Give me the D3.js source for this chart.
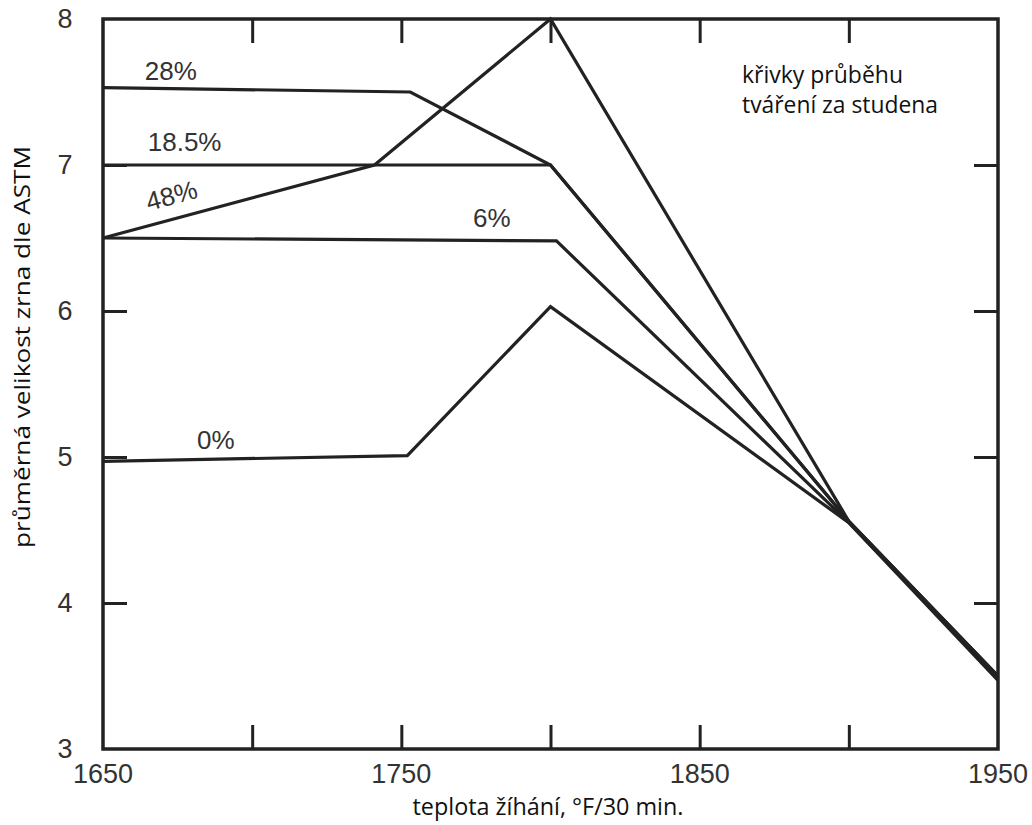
<!DOCTYPE html>
<html><head><meta charset="utf-8">
<script src="https://cdn.jsdelivr.net/npm/d3@7"></script>
<style>body{margin:0;background:#fff}svg{display:block}</style>
</head><body>
<svg id="c" width="1032" height="825"></svg>
<script>
// ---- data ----
const xTicks = [1650, 1750, 1850, 1950];
const xMinorTicks = [1700, 1750, 1800, 1850, 1900];
const yTicks = [3, 4, 5, 6, 7, 8];
const curveNames = ["0%", "6%", "18.5%", "28%", "48%"];
const temps0 = [1650, 1752, 1800, 1900, 1950];
const grain0 = [4.97, 5.01, 6.03, 4.55, 3.47];
const temps6 = [1650, 1802, 1900, 1950];
const grain6 = [6.5, 6.48, 4.55, 3.49];
const temps185 = [1650, 1800, 1900, 1950];
const grain185 = [7.0, 7.0, 4.56, 3.5];
const temps28 = [1650, 1753, 1800, 1900, 1950];
const grain28 = [7.53, 7.5, 7.0, 4.56, 3.5];
const temps48 = [1650, 1741, 1800, 1900, 1950];
const grain48 = [6.5, 7.0, 8.0, 4.56, 3.5];
// label anchors (data units)
const labelTemps = [1681.5, 1774, 1665, 1664, 1673];
const labelGrain = [5.055, 6.575, 7.096, 7.58, 6.79];
const labelAngle = [0, 0, 0, 0, -15];
const xTitle = "teplota žíhání, °F/30 min.";
const yTitle = "průměrná velikost zrna dle ASTM";
const note = ["křivky průběhu", "tváření za studena"];

// ---- chart ----
const svg = d3.select("#c");
const L = 103, R = 998, T = 19, B = 749;
const x = d3.scaleLinear().domain([1650, 1950]).range([L, R]);
const y = d3.scaleLinear().domain([3, 8]).range([B, T]);
const ink = "#222";
const txt = "#333";
const numFont = "Liberation Sans, Arial, sans-serif";
const titleFont = "Open Sans, sans-serif";

const series = [
  [temps0, grain0], [temps6, grain6], [temps185, grain185], [temps28, grain28], [temps48, grain48]
];
const line = d3.line().x(d => x(d[0])).y(d => y(d[1]));
series.forEach(([t, g]) => {
  svg.append("path").datum(t.map((v, i) => [v, g[i]]))
    .attr("d", line).attr("fill", "none").attr("stroke", ink)
    .attr("stroke-width", 3.2).attr("stroke-linejoin", "miter");
});

// frame
svg.append("rect").attr("x", L).attr("y", T).attr("width", R - L).attr("height", B - T)
  .attr("fill", "none").attr("stroke", ink).attr("stroke-width", 3.5);

// inward ticks on all four sides
const tl = 24;
const gB = svg.append("g").attr("transform", `translate(0,${B})`)
  .call(d3.axisTop(x).tickValues(xMinorTicks).tickSize(tl).tickFormat(""));
const gT = svg.append("g").attr("transform", `translate(0,${T})`)
  .call(d3.axisBottom(x).tickValues(xMinorTicks).tickSize(tl).tickFormat(""));
const inner = yTicks.slice(1, -1);
const gL = svg.append("g").attr("transform", `translate(${L},0)`)
  .call(d3.axisRight(y).tickValues(inner).tickSize(tl).tickFormat(""));
const gR = svg.append("g").attr("transform", `translate(${R},0)`)
  .call(d3.axisLeft(y).tickValues(inner).tickSize(tl).tickFormat(""));
[gB, gT, gL, gR].forEach(g => {
  g.select(".domain").remove();
  g.selectAll(".tick line").attr("stroke", ink).attr("stroke-width", 3);
});

// tick labels
svg.append("g").selectAll("text").data(xTicks).join("text")
  .attr("x", d => x(d)).attr("y", 783).attr("text-anchor", "middle")
  .attr("font-family", numFont).attr("font-size", 27)
  .attr("fill", txt).text(d => d);
svg.append("g").selectAll("text").data(yTicks).join("text")
  .attr("x", 65).attr("y", d => y(d) + 9).attr("text-anchor", "middle")
  .attr("font-family", numFont).attr("font-size", 27)
  .attr("fill", txt).text(d => d);

// curve labels
curveNames.forEach((n, i) => {
  const px = x(labelTemps[i]), py = y(labelGrain[i]);
  const t = svg.append("text").attr("font-family", numFont)
    .attr("font-size", 26).attr("fill", txt).text(n);
  if (labelAngle[i]) {
    t.attr("text-anchor", "middle").attr("transform", `translate(${px},${py}) rotate(${labelAngle[i]})`).attr("y", 9);
  } else {
    t.attr("x", px).attr("y", py);
  }
});

// titles
svg.append("text").attr("x", 548).attr("y", 815).attr("text-anchor", "middle")
  .attr("font-family", titleFont).attr("font-size", 23).attr("fill", "#111")
  .attr("textLength", 271).attr("lengthAdjust", "spacingAndGlyphs")
  .text(xTitle);
svg.append("text").attr("transform", "translate(30,347) rotate(-90)").attr("text-anchor", "middle")
  .attr("font-family", titleFont).attr("font-size", 22).attr("fill", "#111")
  .attr("textLength", 402).attr("lengthAdjust", "spacingAndGlyphs")
  .text(yTitle);
const noteW = [161, 196];
note.forEach((s, i) => {
  svg.append("text").attr("x", 742).attr("y", 83 + i * 30)
    .attr("font-family", titleFont).attr("font-size", 23).attr("fill", "#111")
    .attr("textLength", noteW[i]).attr("lengthAdjust", "spacingAndGlyphs").text(s);
});
</script>
</body></html>
